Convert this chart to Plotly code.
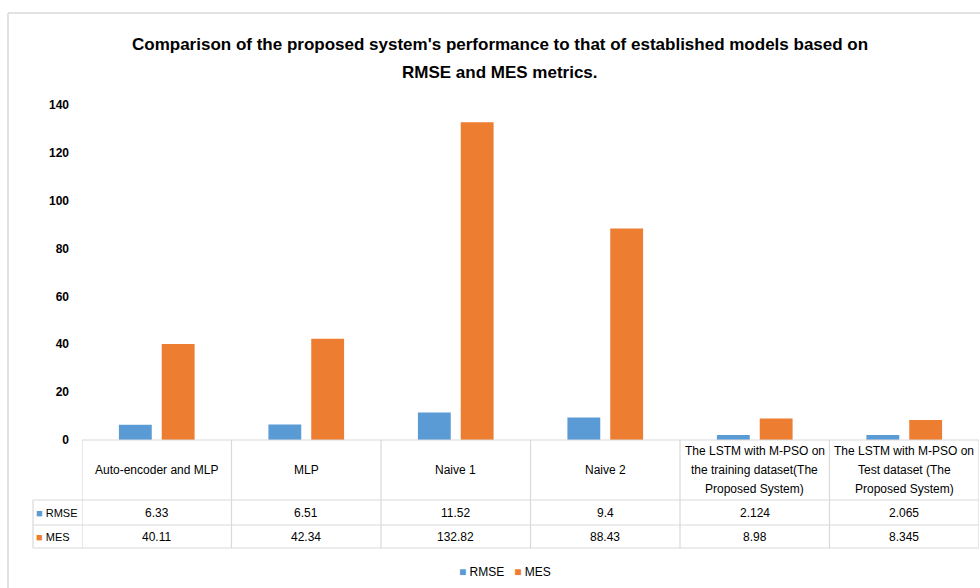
import plotly.graph_objects as go

categories = ["Auto-encoder and MLP", "MLP", "Naive 1", "Naive 2",
              "LSTM M-PSO train", "LSTM M-PSO test"]
header_labels = ["Auto-encoder and MLP", "MLP", "Naive 1", "Naive 2",
                 "The LSTM with M-PSO on<br>the training dataset(The<br>Proposed System)",
                 "The LSTM with M-PSO on<br>Test dataset (The<br>Proposed System)"]
rmse = [6.33, 6.51, 11.52, 9.4, 2.124, 2.065]
mes = [40.11, 42.34, 132.82, 88.43, 8.98, 8.345]
series_names = ["RMSE", "MES"]
colors = ["#5B9BD5", "#ED7D31"]
y_ticks = [0, 20, 40, 60, 80, 100, 120, 140]

W, H = 980, 588
ML, MR, MT, MB = 82, 1, 105, 148
PW = W - ML - MR
PH = H - MT - MB
FONT = "Liberation Sans Narrow, Arial Narrow, Liberation Sans, sans-serif"
GRID = "#d9d9d9"


def px_x(px):
    return (px - ML) / PW


def px_y(py):
    return (H - MB - py) / PH


fig = go.Figure()
for name, vals, col in zip(series_names, [rmse, mes], colors):
    fig.add_trace(go.Bar(x=categories, y=vals, name=name, marker_color=col,
                         marker_line_width=0))

shapes = []
annotations = []

# outer chart border (left and top)
shapes.append(dict(type="line", xref="paper", yref="paper",
                   x0=px_x(8), x1=px_x(8), y0=px_y(13), y1=px_y(H), line=dict(color=GRID, width=1.5)))
shapes.append(dict(type="line", xref="paper", yref="paper",
                   x0=px_x(8), x1=px_x(W), y0=px_y(13), y1=px_y(13), line=dict(color=GRID, width=1.5)))

# data table grid
row_y = [440, 500, 525, 548]
left_col = 33
shapes.append(dict(type="line", xref="paper", yref="paper", x0=0, x1=1,
                   y0=px_y(row_y[0]), y1=px_y(row_y[0]), line=dict(color=GRID, width=1.2)))
for ry in row_y[1:]:
    shapes.append(dict(type="line", xref="paper", yref="paper", x0=px_x(left_col), x1=1,
                       y0=px_y(ry), y1=px_y(ry), line=dict(color=GRID, width=1.2)))
shapes.append(dict(type="line", xref="paper", yref="paper", x0=px_x(left_col), x1=px_x(left_col),
                   y0=px_y(row_y[1]), y1=px_y(row_y[3]), line=dict(color=GRID, width=1.2)))
for i in range(len(categories) + 1):
    shapes.append(dict(type="line", xref="x", yref="paper", x0=i - 0.5, x1=i - 0.5,
                       y0=px_y(row_y[0]), y1=px_y(row_y[3]), line=dict(color=GRID, width=1.2)))

# table header text, one annotation per line for Excel-like line spacing
LINE_GAP = 19
for cat, lab in zip(categories, header_labels):
    lines = lab.split("<br>")
    n = len(lines)
    for k, ln in enumerate(lines):
        yc = 470 + (k - (n - 1) / 2) * LINE_GAP
        annotations.append(dict(x=cat, xref="x", y=px_y(yc), yref="paper", text=ln,
                                showarrow=False, font=dict(family=FONT, size=12, color="#000"),
                                xanchor="center", yanchor="middle"))
for vals, yc in zip([rmse, mes], [512.5, 536.5]):
    for cat, v in zip(categories, vals):
        annotations.append(dict(x=cat, xref="x", y=px_y(yc), yref="paper", text=str(v),
                                showarrow=False, font=dict(family=FONT, size=12, color="#000"),
                                xanchor="center", yanchor="middle"))
for name, col, yc in zip(series_names, colors, [512.5, 536.5]):
    annotations.append(dict(x=px_x(34), xref="paper", y=px_y(yc), yref="paper",
                            text=f"<span style='color:{col}'>■</span> {name}",
                            showarrow=False, font=dict(family=FONT, size=11, color="#000"),
                            xanchor="left", yanchor="middle"))

# bottom legend
legend_text = "   ".join(f"<span style='color:{c}'>■</span> {n}" for n, c in zip(series_names, colors))
annotations.append(dict(x=px_x(505), xref="paper", y=px_y(572), yref="paper", text=legend_text,
                        showarrow=False, font=dict(family=FONT, size=12, color="#000"),
                        xanchor="center", yanchor="middle"))

# title lines
annotations.append(dict(x=px_x(500), xref="paper", y=px_y(44), yref="paper",
                        text="<b>Comparison of the proposed system's performance to that of established models based on</b>",
                        showarrow=False, font=dict(family=FONT, size=17, color="#000"),
                        xanchor="center", yanchor="middle"))
annotations.append(dict(x=px_x(500), xref="paper", y=px_y(73), yref="paper",
                        text="<b>RMSE and MES metrics.</b>",
                        showarrow=False, font=dict(family=FONT, size=17, color="#000"),
                        xanchor="center", yanchor="middle"))

fig.update_layout(
    width=W, height=H,
    margin=dict(l=ML, r=MR, t=MT, b=MB, pad=0),
    paper_bgcolor="white", plot_bgcolor="white",
    barmode="group", bargap=0.427, bargroupgap=0.233,
    font=dict(family=FONT, size=12, color="#000"),
    shapes=shapes, annotations=annotations,
    showlegend=False,
    xaxis=dict(range=[-0.5, len(categories) - 0.5], showticklabels=False, showgrid=False,
               zeroline=False, showline=False, ticks=""),
    yaxis=dict(range=[0, 140], tickvals=y_ticks, showgrid=False, zeroline=False, showline=False,
               ticks="", ticklabelstandoff=12,
               tickfont=dict(family=FONT, size=12, color="#000", weight="bold")),
)

fig.write_html("out.html")
